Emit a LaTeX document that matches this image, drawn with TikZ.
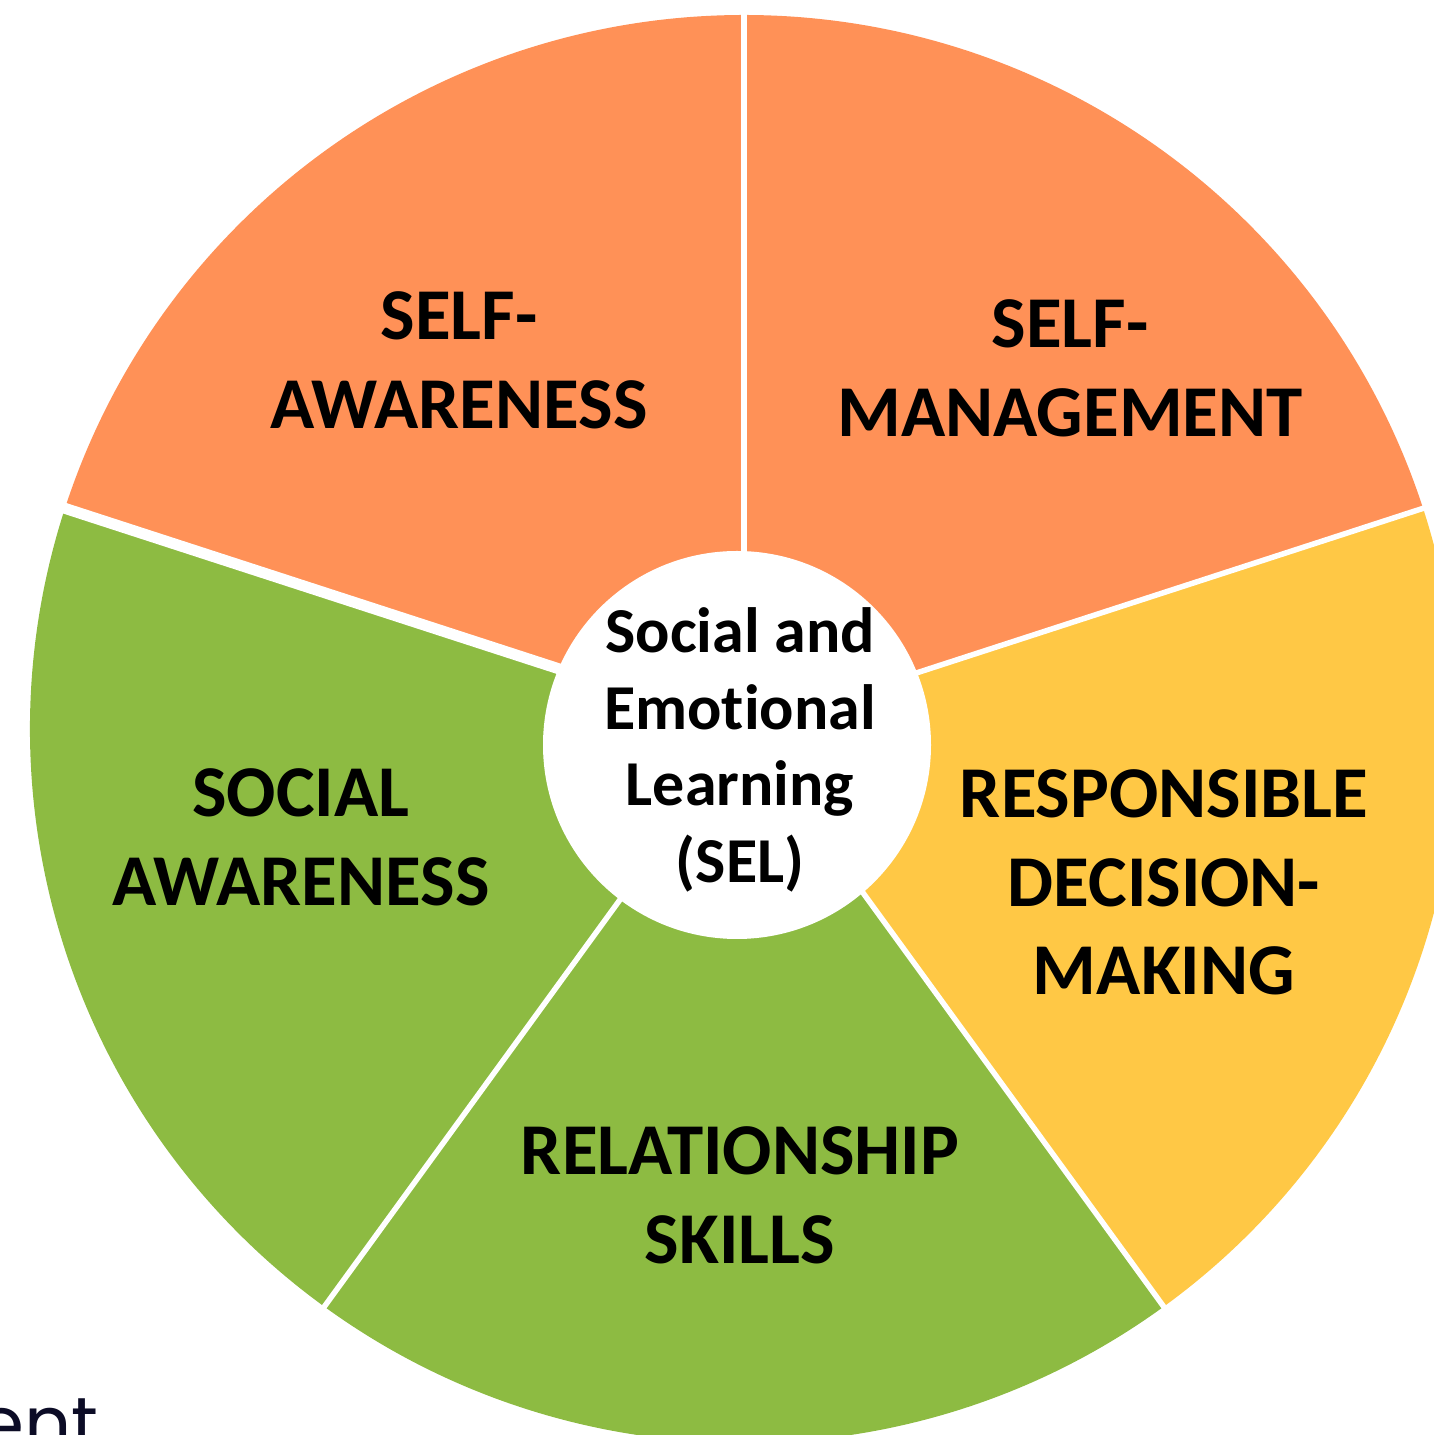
\documentclass[tikz,border=0pt]{standalone}
\usepackage{fontspec}
\setmainfont{Carlito}[Ligatures=NoCommon]
\newfontfamily\entfont{Poppins}
\definecolor{selorange}{HTML}{FF9157}
\definecolor{selgreen}{HTML}{8DBB42}
\definecolor{selyellow}{HTML}{FFC845}
\definecolor{entcol}{HTML}{0C0C26}
\begin{document}
\begin{tikzpicture}[x=1pt,y=1pt,
  lbl/.style={inner sep=0pt, anchor=base, text=black, font=\bfseries\fontsize{73}{88.5}\selectfont},
  hublbl/.style={inner sep=0pt, anchor=base, text=black, font=\bfseries\fontsize{64}{76.5}\selectfont},
  gap/.style={draw=white, line width=5.5pt},
  hub/.style={circle, fill=white, minimum size=388pt, inner sep=0pt}]
\useasboundingbox (0,0) rectangle (1434,1435);
\clip (0,0) rectangle (1434,1435);
\coordinate (C) at (744,706);
% wedges
\fill[selorange] (C) -- ++(90:714) arc[start angle=90, end angle=162, radius=714] -- cycle;
\fill[selorange] (C) -- ++(18:714) arc[start angle=18, end angle=90, radius=714] -- cycle;
\fill[selyellow] (C) -- ++(-54:714) arc[start angle=-54, end angle=18, radius=714] -- cycle;
\fill[selgreen] (C) -- ++(-126:714) arc[start angle=-126, end angle=-54, radius=714] -- cycle;
\fill[selgreen] (C) -- ++(162:714) arc[start angle=162, end angle=234, radius=714] -- cycle;
% gaps
\foreach \a in {90,18,-54,-126} \draw[gap] (C) -- ++(\a:740);
\draw[gap, line width=11pt] (C) -- ++(162:740);
% hub
\node[hub] (hub) at (737,690) {};
\node[hublbl] (sel) at (740,782) {\begin{tabular}[t]{@{}c@{}}Social and\\Emotional\\Learning\\(SEL)\end{tabular}};
% labels
\node[lbl] (sa) at (459,1095) {\begin{tabular}[t]{@{}c@{}}SELF-\\AWARENESS\end{tabular}};
\node[lbl] (sm) at (1070,1087) {\begin{tabular}[t]{@{}c@{}}SELF-\\MANAGEMENT\end{tabular}};
\node[lbl] (rdm) at (1164,617) {\begin{tabular}[t]{@{}c@{}}RESPONSIBLE\\DECISION-\\MAKING\end{tabular}};
\node[lbl] (soc) at (301,618) {\begin{tabular}[t]{@{}c@{}}SOCIAL\\AWARENESS\end{tabular}};
\node[lbl] (rel) at (740,260) {\begin{tabular}[t]{@{}c@{}}RELATIONSHIP\\SKILLS\end{tabular}};
% cut-off text
\node[inner sep=0pt, anchor=base east, text=entcol, font=\entfont\fontsize{74}{80}\selectfont] (ent) at (99,-14) {ent};
\end{tikzpicture}
\end{document}
